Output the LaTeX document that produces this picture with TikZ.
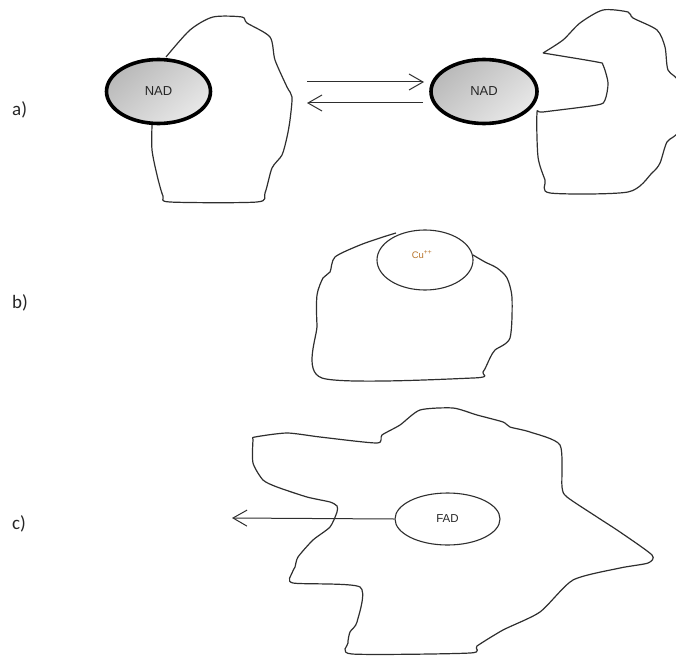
\documentclass[tikz,border=0pt]{standalone}
\usepackage{fontspec}
\setmainfont{Carlito}
\newfontfamily\arialfont{Liberation Sans}
\usetikzlibrary{arrows.meta,shapes.geometric}
\definecolor{outline}{HTML}{2E2E2E}
\definecolor{cuorange}{HTML}{B8742A}
\tikzset{
  blob/.style={draw=outline, line width=1.2pt, line join=round},
  cofactor/.style={ellipse, draw=black, line width=3.6pt, minimum width=104pt, minimum height=64pt,
    top color=gray!55, bottom color=gray!18, shading angle=40, inner sep=0pt,
    font=\arialfont\fontsize{13}{15}\selectfont, text=black!85},
  site/.style={ellipse, draw=outline, line width=1.1pt, fill=white, inner sep=0pt},
  patharrow/.style={draw=outline, line width=1pt, -{Straight Barb[length=14pt,width=16pt]}},
  partlabel/.style={font=\fontsize{19}{22}\selectfont, text=black!85, anchor=west, inner sep=0pt}
}
\begin{document}
\begin{tikzpicture}[x=1pt,y=-1pt]
\useasboundingbox (0,0) rectangle (676,655);
\clip (0,0) rectangle (676,655);

% part labels
\node[partlabel] (la) at (12,110) {a)};
\node[partlabel] (lb) at (12,303) {b)};
\node[partlabel] (lc) at (12,524) {c)};

% a) protein with bound NAD
\draw[blob] plot[smooth, tension=0.45] coordinates {
  (152,125) (152,150) (157,175) (163,196) (170,202) (257,202) (265,193)
  (272,168) (282,155) (287,137) (290,120) (292,97) (287,87) (275,60)
  (270,37) (247,23) (242,17) (213,17) (190,30) (166,57)};
\node[cofactor] (nadL) at (158.5,91.5) {NAD};

% a) protein with empty pocket
\draw[blob] plot[smooth, tension=0.45] coordinates {
  (543,53) (563,40) (580,23) (603,10) (628,12) (633,18) (657,30) (665,47)
  (668,70) (680,84) (680,129) (667,142) (660,163) (652,173) (628,192)
  (550,193) (545,180) (538,157) (537,113) (543,112) (597,105) (605,100)
  (608,83) (603,65) (597,62) (543,53)};
\node[cofactor, minimum width=106pt] (nadR) at (484,91.5) {NAD};

% a) equilibrium arrows
\coordinate (fwdS) at (307,82);
\coordinate (fwdE) at (424,82);
\coordinate (revS) at (423,103);
\coordinate (revE) at (307,103);
\draw[patharrow] (fwdS) -- (fwdE);
\draw[patharrow] (revS) -- (revE);

% b) protein with Cu++ site
\draw[blob] plot[smooth, tension=0.45] coordinates {
  (473,255) (485,262) (497,268) (507,278) (512,298) (510,338) (495,350)
  (490,358) (483,372) (473,378) (322,378) (317,325) (317,295) (323,278)
  (330,272) (335,257) (360,245) (383,237) (396,233)};
\node[site, minimum width=96pt, minimum height=60pt] (cu) at (425,260) {};
\node[font=\arialfont\fontsize{9.5}{11}\selectfont, text=cuorange] (culbl) at (422,255) {Cu\textsuperscript{++}};

% c) protein releasing FAD
\draw[blob] plot[smooth cycle, tension=0.4] coordinates {
  (255,437) (287,433) (320,437) (377,443) (382,435) (400,425) (420,410)
  (453,408) (477,415) (503,422) (510,427) (530,432) (560,445) (562,487)
  (567,497) (597,517) (620,532) (652,555) (648,563) (620,568) (573,580)
  (540,612) (503,630) (477,646) (470,653) (352,654) (348,643) (350,632)
  (357,622) (360,587) (293,583) (292,573) (295,567) (298,557) (313,540)
  (330,527) (337,512) (337,506) (330,502) (307,497) (277,487) (263,480)
  (253,463) (253,440)};
\node[site, minimum width=105pt, minimum height=52pt,
  font=\arialfont\fontsize{11.5}{13}\selectfont, text=black!85] (fad) at (447.5,519) {FAD};
\coordinate (fadOut) at (232,518);
\draw[patharrow] (fad.west) -- (fadOut);
\end{tikzpicture}
\end{document}
